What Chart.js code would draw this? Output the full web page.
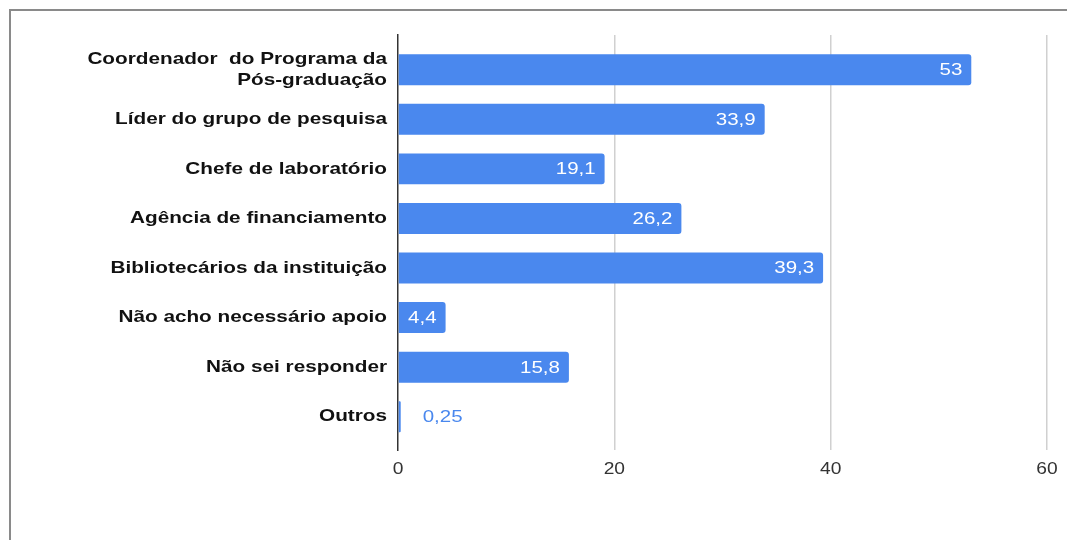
<!DOCTYPE html>
<html>
<head>
<meta charset="utf-8">
<script src="https://cdn.jsdelivr.net/npm/chart.js@4/dist/chart.umd.min.js"></script>
<style>
  html, body { margin: 0; padding: 0; background: #fff; }
  #wrap { position: relative; width: 1067px; height: 540px; overflow: hidden; }
  #frame { position: absolute; left: 9px; top: 9px; width: 1100px; height: 600px;
           border-top: 2px solid #8a8a8a; border-left: 2px solid #8a8a8a; }
  canvas { position: absolute; left: 0; top: 0; }
</style>
</head>
<body>
<div id="wrap">
  <div id="frame"></div>
  <canvas id="c" width="1067" height="540"></canvas>
</div>
<script>
// Categories (top to bottom) and their percentages
const categories = [
  ["Coordenador  do Programa da", "Pós-graduação"],
  "Líder do grupo de pesquisa",
  "Chefe de laboratório",
  "Agência de financiamento",
  "Bibliotecários da instituição",
  "Não acho necessário apoio",
  "Não sei responder",
  "Outros"
];
const values = [53, 33.9, 19.1, 26.2, 39.3, 4.4, 15.8, 0.25];
const xTicks = [0, 20, 40, 60];

const BAR_BLUE = "#4a88ee";
const FONT = "'Liberation Sans', Arial, sans-serif";
const fmt = v => String(v).replace(".", ",");

// Draws text horizontally stretched, anchored at x with the given alignment
function wideText(ctx, text, x, y, align, stretch) {
  const w = ctx.measureText(text).width * stretch;
  const left = align === "right" ? x - w : align === "center" ? x - w / 2 : x;
  ctx.save();
  ctx.translate(left, y);
  ctx.scale(stretch, 1);
  ctx.textAlign = "left";
  ctx.fillText(text, 0, 0);
  ctx.restore();
  return w;
}

// Category names beside the value axis (one or two lines each) and the value-axis tick labels
const axisLabels = {
  id: "axisLabels",
  afterDraw(chart) {
    const ctx = chart.ctx;
    const ys = chart.scales.y;
    const xs = chart.scales.x;
    const right = chart.chartArea.left - 11;
    ctx.save();
    ctx.font = "bold 17px " + FONT;
    ctx.fillStyle = "#111";
    ctx.textBaseline = "middle";
    categories.forEach((label, i) => {
      const lines = Array.isArray(label) ? label : [label];
      const cy = ys.getPixelForValue(i);
      const lh = 21;
      lines.forEach((line, k) => {
        const ly = cy + (k - (lines.length - 1) / 2) * lh;
        wideText(ctx, line, right, ly, "right", 1.22);
      });
    });
    ctx.font = "16px " + FONT;
    ctx.fillStyle = "#333";
    xTicks.forEach(v => {
      wideText(ctx, String(v), xs.getPixelForValue(v), chart.chartArea.bottom + 20, "center", 1.2);
    });
    ctx.restore();
  }
};

// Writes each value at the end of its bar: inside in white, or outside in blue when the bar is too short
const valueLabels = {
  id: "valueLabels",
  afterDatasetsDraw(chart) {
    const ctx = chart.ctx;
    const meta = chart.getDatasetMeta(0);
    const stretch = 1.28;
    ctx.save();
    ctx.font = "16px " + FONT;
    ctx.textBaseline = "middle";
    meta.data.forEach((bar, i) => {
      const text = fmt(values[i]);
      const w = ctx.measureText(text).width * stretch;
      const barLen = bar.x - bar.base;
      if (barLen > w + 14) {
        ctx.fillStyle = "#ffffff";
        wideText(ctx, text, bar.x - 9, bar.y + 1, "right", stretch);
      } else {
        ctx.fillStyle = BAR_BLUE;
        wideText(ctx, text, bar.x + 22, bar.y + 1, "left", stretch);
      }
    });
    ctx.restore();
  }
};

new Chart(document.getElementById("c"), {
  type: "bar",
  data: {
    datasets: [{
      data: values.map((v, i) => ({ x: v, y: i })),
      backgroundColor: BAR_BLUE,
      borderRadius: 3,
      borderSkipped: "left",
      categoryPercentage: 1,
      barPercentage: 0.625
    }]
  },
  options: {
    indexAxis: "y",
    responsive: false,
    animation: false,
    layout: { padding: { top: 35, right: 20, bottom: 50, left: 0 } },
    plugins: { legend: { display: false }, tooltip: { enabled: false } },
    scales: {
      x: {
        type: "linear",
        min: 0,
        max: 60,
        afterBuildTicks: s => { s.ticks = xTicks.map(v => ({ value: v })); },
        afterFit: s => { s.height = 40; },
        border: { display: false },
        grid: {
          color: ctx => ctx.tick && ctx.tick.value === 0 ? "rgba(0,0,0,0)" : "#d0d0d0",
          lineWidth: 1.5,
          drawTicks: false
        },
        ticks: { display: false }
      },
      y: {
        type: "linear",
        reverse: true,
        offset: false,
        min: -0.7,
        max: 7.67,
        afterBuildTicks: s => { s.ticks = categories.map((_, i) => ({ value: i })); },
        afterFit: s => { s.width = 398; },
        border: { display: true, color: "#333", width: 1.5 },
        grid: { display: false },
        ticks: { display: false }
      }
    }
  },
  plugins: [valueLabels, axisLabels]
});
</script>
</body>
</html>
